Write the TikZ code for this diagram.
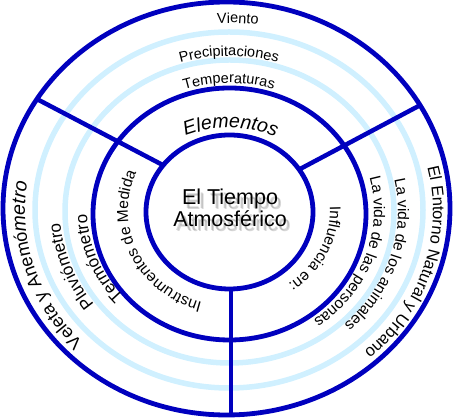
\documentclass[tikz,border=0pt]{standalone}
\usepackage{fontspec}
\setmainfont{Liberation Sans}
\usetikzlibrary{decorations.text,calc}
\definecolor{dblue}{RGB}{0,0,190}
\definecolor{lblue}{RGB}{208,240,255}
\newcommand\fTop{\fontsize{14.5}{17}\selectfont}
\newcommand\fSide{\fontsize{15.5}{18}\selectfont}
\newcommand\fLeft{\fontsize{17}{19}\selectfont}
\newcommand\fVel{\fontsize{18}{20}\selectfont}
\newcommand\fBig{\fontsize{16.5}{19}\selectfont}
\newcommand\fElem{\fontsize{19.5}{21}\selectfont\itshape}
\newcommand\fCenter{\fontsize{21.5}{22}\selectfont}
\begin{document}
\begin{tikzpicture}[x=1pt,y=1pt,
  ring/.style={draw=dblue,line width=4.8pt},
  lring/.style={draw=lblue,line width=5.5pt},
  spoke/.style={draw=dblue,line width=4.5pt},
  arctext/.style={decorate,decoration={text along path,text align=center,text={#1}}},
  titletext/.style={font=\fCenter,anchor=base,inner sep=0pt,text=black},
  shadowtext/.style={font=\fCenter,anchor=base,inner sep=0pt,text=black!70,opacity=0.22}]
\useasboundingbox (0,0) rectangle (455,419);
\coordinate (co) at (226.5,210.5);
\coordinate (l1) at (229,209);
\coordinate (l2) at (229.5,207.5);
\coordinate (d4) at (229.5,205);
\coordinate (ce) at (229.5,207);
\coordinate (tc) at (229,208);
% rings
\draw[lring] (l1) ellipse [x radius=194, y radius=178];
\draw[lring] (l2) ellipse [x radius=164.5, y radius=151.5];
\draw[ring] (co) ellipse [x radius=223.5, y radius=206.5];
\draw[ring] (d4) ellipse [x radius=136.5, y radius=126];
\draw[ring] (ce) ellipse [x radius=83.5, y radius=77];
% spokes
\coordinate (SLi) at ($(ce)+(142.6:83.5 and 77)$);
\coordinate (SLo) at ($(co)+(148:223.5 and 206.5)$);
\coordinate (SRi) at ($(ce)+(33.5:83.5 and 77)$);
\coordinate (SRo) at ($(co)+(30:223.5 and 206.5)$);
\coordinate (SBi) at (231,130);
\coordinate (SBo) at (231,4);
\draw[spoke] (SLi) -- (SLo);
\draw[spoke] (SRi) -- (SRo);
\draw[spoke] (SBi) -- (SBo);
% top texts
\path[arctext={|\fTop|Viento}] ($(tc)+(122.5:204 and 188)$) arc[start angle=122.5, end angle=52.5, x radius=204, y radius=188];
\path[arctext={|\fTop|Precipitaciones}] ($(tc)+(130:169 and 155)$) arc[start angle=130, end angle=50, x radius=169, y radius=155];
\path[arctext={|\fTop|Temperaturas}] ($(tc)+(130:142 and 128)$) arc[start angle=130, end angle=50, x radius=142, y radius=128];
\path[arctext={|\fElem|Elementos}] ($(tc)+(136:101 and 83)$) arc[start angle=136, end angle=42, x radius=101, y radius=83];
% left texts
\path[arctext={|\fVel|Veleta y Anemó|\fontsize{19.5}{21}\selectfont\itshape|metro}] ($(tc)+(252:204 and 188)$) arc[start angle=252, end angle=142, x radius=204, y radius=188];
\path[arctext={|\fLeft|Pluviómetro}] ($(tc)+(245:169 and 155)$) arc[start angle=245, end angle=155, x radius=169, y radius=155];
\path[arctext={|\fLeft|Termómetro}] ($(tc)+(246:142 and 128)$) arc[start angle=246, end angle=156, x radius=142, y radius=128];
\path[arctext={|\fSide|Instrumentos de Medida}] ($(tc)+(275:101 and 95)$) arc[start angle=275, end angle=135, x radius=101, y radius=95];
% right texts
\path[arctext={|\fBig|El Entorno Natural y Urbano}] ($(tc)+(38:204 and 188)$) arc[start angle=38, end angle=-72, x radius=204, y radius=188];
\path[arctext={|\fSide|La vida de los animales}] ($(tc)+(38:169 and 155)$) arc[start angle=38, end angle=-72, x radius=169, y radius=155];
\path[arctext={|\fSide|La vida de las personas}] ($(tc)+(35:145 and 134)$) arc[start angle=35, end angle=-74, x radius=145, y radius=134];
\path[arctext={|\fSide|Influencia en:}] ($(tc)+(20:101 and 90)$) arc[start angle=20, end angle=-70, x radius=101, y radius=90];
% centre title with shadow
\foreach \dx/\dy [count=\i] in {3/-4,4/-5} {
  \node[shadowtext] (sa\i) at (230+\dx,214+\dy) {El Tiempo};
  \node[shadowtext] (sb\i) at (230+\dx,192+\dy) {Atmosférico};
}
\node[titletext] (title1) at (230,214) {El Tiempo};
\node[titletext] (title2) at (230,192) {Atmosférico};
\end{tikzpicture}
\end{document}
